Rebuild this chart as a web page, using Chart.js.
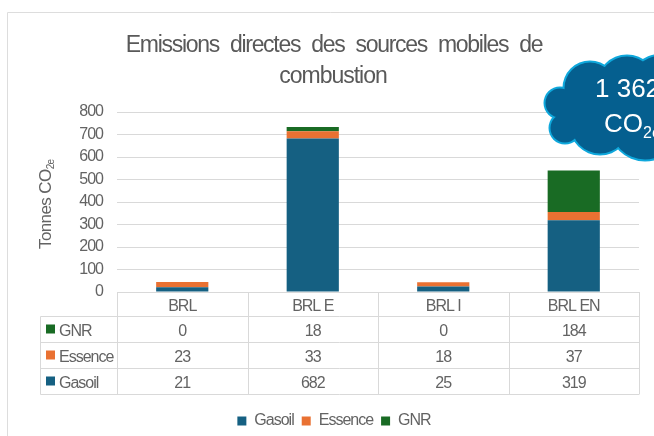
<!DOCTYPE html>
<html lang="fr">
<head>
<meta charset="utf-8">
<title>Emissions directes des sources mobiles de combustion</title>
<style>
  html, body { margin: 0; padding: 0; background: #fff; overflow: hidden; }
  canvas { display: block; }
</style>
<script src="https://cdn.jsdelivr.net/npm/chart.js@4.4.0/dist/chart.umd.min.js"></script>
</head>
<body>
<canvas id="chart" width="654" height="436"></canvas>
<script>
  /* ── Data ─────────────────────────────────────────────────────────────── */
  const categories = ['BRL', 'BRL E', 'BRL I', 'BRL EN'];
  const gasoil  = [21, 682, 25, 319];
  const essence = [23, 33, 18, 37];
  const gnr     = [0, 18, 0, 184];
  const yTicks  = [0, 100, 200, 300, 400, 500, 600, 700, 800];
  const titleLines = ['Emissions directes des sources mobiles de', 'combustion'];

  const FONT = '"Liberation Sans", Arial, sans-serif';
  const TEXT = '#636363';
  const GRID = '#d9d9d9';
  const TIGHT = '-1px';
  const COLORS = { gasoil: '#156082', essence: '#E97132', gnr: '#196B24' };

  /* ── Card, title, axis title ──────────────────────────────────────────── */
  const cardPlugin = {
    id: 'card',
    beforeDraw(chart) {
      const ctx = chart.ctx;
      ctx.letterSpacing = TIGHT;
      ctx.save();
      ctx.strokeStyle = '#dddddd';
      ctx.lineWidth = 1;
      ctx.beginPath();
      ctx.moveTo(7.5, 436);
      ctx.lineTo(7.5, 12.5);
      ctx.lineTo(654, 12.5);
      ctx.stroke();

      ctx.fillStyle = '#595959';
      ctx.textAlign = 'center';
      ctx.textBaseline = 'alphabetic';
      ctx.font = '23px ' + FONT;
      ctx.letterSpacing = '-1.3px';
      ctx.wordSpacing = '6px';
      ctx.fillText(titleLines[0], 334, 52);
      ctx.wordSpacing = '0px';
      ctx.letterSpacing = '-1px';
      ctx.fillText(titleLines[1], 333, 83);

      ctx.fillStyle = TEXT;
      ctx.translate(51, 249);
      ctx.rotate(-Math.PI / 2);
      ctx.textAlign = 'left';
      ctx.font = '17px ' + FONT;
      ctx.letterSpacing = '-0.6px';
      ctx.fillText('Tonnes CO', 0, 0);
      const w = ctx.measureText('Tonnes CO').width;
      ctx.font = '10px ' + FONT;
      ctx.fillText('2e', w, 3);
      ctx.restore();
    }
  };

  /* ── Data table under the x axis ──────────────────────────────────────── */
  const tablePlugin = {
    id: 'dataTable',
    afterDraw(chart) {
      const ctx = chart.ctx;
      const area = chart.chartArea;
      const x = chart.scales.x;
      const rows = [
        { name: 'GNR', values: gnr, color: COLORS.gnr },
        { name: 'Essence', values: essence, color: COLORS.essence },
        { name: 'Gasoil', values: gasoil, color: COLORS.gasoil }
      ];
      const rowTops = [316.5, 342.5, 368.5, 394.5];
      const left = 40.5;
      const colW = (area.right - area.left) / categories.length;

      ctx.save();
      ctx.strokeStyle = GRID;
      ctx.lineWidth = 1;
      ctx.beginPath();
      // header row verticals
      for (let i = 0; i <= categories.length; i++) {
        const vx = Math.round(area.left + i * colW) + 0.5;
        ctx.moveTo(vx, area.bottom);
        ctx.lineTo(vx, rowTops[3]);
      }
      ctx.moveTo(left, rowTops[0]);
      ctx.lineTo(left, rowTops[3]);
      rowTops.forEach(y => {
        ctx.moveTo(left, y);
        ctx.lineTo(area.right, y);
      });
      ctx.stroke();

      ctx.font = '16px ' + FONT;
      ctx.textBaseline = 'alphabetic';
      rows.forEach((row, r) => {
        const base = rowTops[r] + 19;
        ctx.fillStyle = row.color;
        ctx.fillRect(46, rowTops[r] + 8, 9, 9);
        ctx.fillStyle = TEXT;
        ctx.textAlign = 'left';
        ctx.fillText(row.name, 59, base);
        ctx.textAlign = 'center';
        row.values.forEach((v, i) => ctx.fillText(String(v), x.getPixelForTick(i), base));
      });
      ctx.restore();
    }
  };

  /* ── Cloud callout (cut by the right edge, as in the source) ──────────── */
  const cloudPlugin = {
    id: 'cloud',
    afterDraw(chart) {
      const ctx = chart.ctx;
      const bumps = [
        [560, 103, 15], [565, 128, 15], [590, 88, 26], [627, 85, 29],
        [600, 125, 29], [645, 125, 35], [662, 90, 35], [620, 105, 35], [582, 110, 20]
      ];
      const paint = (extra, color) => {
        ctx.fillStyle = color;
        ctx.beginPath();
        bumps.forEach(([cx, cy, r]) => {
          ctx.moveTo(cx + r + extra, cy);
          ctx.arc(cx, cy, r + extra, 0, Math.PI * 2);
        });
        ctx.fill('nonzero');
      };
      ctx.save();
      paint(1.5, '#0fa8dc');
      paint(-0.5, '#055f8f');

      ctx.fillStyle = '#ffffff';
      ctx.textAlign = 'left';
      ctx.textBaseline = 'alphabetic';
      ctx.letterSpacing = '0px';
      ctx.font = '26px ' + FONT;
      ctx.fillText('1 362 t', 595, 97);
      ctx.fillText('CO', 604, 132);
      const w = ctx.measureText('CO').width;
      ctx.font = '16px ' + FONT;
      ctx.fillText('2e', 604 + w, 138);
      ctx.restore();
    }
  };

  /* ── Chart ────────────────────────────────────────────────────────────── */
  new Chart(document.getElementById('chart').getContext('2d'), {
    type: 'bar',
    data: {
      labels: categories,
      datasets: [
        { label: 'Gasoil',  data: gasoil,  backgroundColor: COLORS.gasoil,  stack: 'a' },
        { label: 'Essence', data: essence, backgroundColor: COLORS.essence, stack: 'a' },
        { label: 'GNR',     data: gnr,     backgroundColor: COLORS.gnr,     stack: 'a' }
      ]
    },
    options: {
      responsive: false,
      animation: false,
      layout: { padding: { top: 112, left: 45, right: 15, bottom: -3 } },
      datasets: { bar: { categoryPercentage: 0.4, barPercentage: 1 } },
      plugins: {
        title: { display: false },
        tooltip: { enabled: false },
        legend: {
          position: 'bottom',
          labels: {
            color: TEXT, boxWidth: 9, boxHeight: 9, padding: 8,
            font: { family: FONT, size: 16 }
          }
        }
      },
      scales: {
        x: {
          stacked: true,
          grid: { display: false },
          border: { display: false },
          ticks: { color: TEXT, padding: -3, font: { family: FONT, size: 16 }, maxRotation: 0 },
          afterFit(scale) { scale.height = 113; }
        },
        y: {
          stacked: true,
          min: 0,
          max: 800,
          afterBuildTicks(scale) { scale.ticks = yTicks.map(value => ({ value })); },
          grid: { color: GRID, drawTicks: false },
          border: { display: false },
          ticks: { color: TEXT, padding: 14, font: { family: FONT, size: 16 } },
          afterFit(scale) { scale.width = 72; }
        }
      }
    },
    plugins: [cardPlugin, tablePlugin, cloudPlugin]
  });
</script>
</body>
</html>
